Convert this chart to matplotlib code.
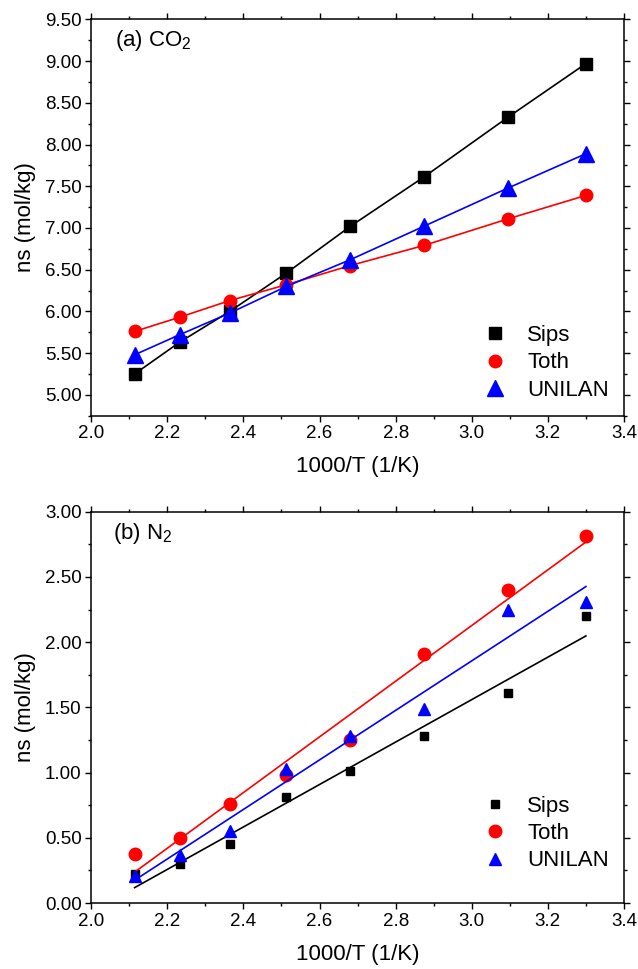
import matplotlib
matplotlib.use('Agg')
import matplotlib.pyplot as plt
from matplotlib.ticker import MultipleLocator, FormatStrFormatter
import numpy as np

plt.rcParams['font.family'] = ['Liberation Sans', 'DejaVu Sans']
plt.rcParams['mathtext.fontset'] = 'custom'
plt.rcParams['mathtext.rm'] = 'Liberation Sans'
plt.rcParams['mathtext.it'] = 'Liberation Sans:italic'

# 1000/T for T = 473, 448, 423, 398, 373, 348, 323, 303 K
inv_t = [2.114, 2.232, 2.364, 2.513, 2.681, 2.874, 3.096, 3.300]

co2_sips = [5.25, 5.63, 6.00, 6.46, 7.02, 7.61, 8.33, 8.97]
co2_toth = [5.76, 5.93, 6.13, 6.32, 6.55, 6.79, 7.11, 7.39]
co2_unilan = [5.48, 5.72, 5.98, 6.30, 6.62, 7.02, 7.48, 7.89]

n2_sips = [0.22, 0.30, 0.45, 0.81, 1.01, 1.28, 1.61, 2.20]
n2_toth = [0.38, 0.50, 0.76, 0.98, 1.25, 1.91, 2.40, 2.81]
n2_unilan = [0.21, 0.37, 0.55, 1.03, 1.28, 1.49, 2.25, 2.31]

models = ['Sips', 'Toth', 'UNILAN']
colors = ['black', 'red', 'blue']
markers = ['s', 'o', '^']

fig = plt.figure(figsize=(6.38, 9.69), dpi=100)
ax1 = fig.add_axes([0.143, 0.571, 0.835, 0.409])
ax2 = fig.add_axes([0.143, 0.068, 0.835, 0.404])

def style_axis(ax, ymin, ymax):
  ax.set_xlim(2.0, 3.4)
  ax.set_ylim(ymin, ymax)
  ax.xaxis.set_major_locator(MultipleLocator(0.2))
  ax.xaxis.set_minor_locator(MultipleLocator(0.1))
  ax.yaxis.set_major_locator(MultipleLocator(0.5))
  ax.yaxis.set_minor_locator(MultipleLocator(0.25))
  ax.xaxis.set_major_formatter(FormatStrFormatter('%.1f'))
  ax.yaxis.set_major_formatter(FormatStrFormatter('%.2f'))
  ax.tick_params(which='both', direction='out', top=True, right=True, labelsize=13.5, pad=3)
  ax.tick_params(which='major', length=4, width=1)
  ax.tick_params(which='minor', length=2.5, width=1)
  for s in ax.spines.values():
    s.set_linewidth(1.1)
  ax.set_xlabel('1000/T (1/K)', fontsize=16, labelpad=10)
  ax.set_ylabel('ns (mol/kg)', fontsize=16, labelpad=6)

def add_legend(ax, ybottom):
  ax.legend(loc='lower right', bbox_to_anchor=(0.972, ybottom), frameon=False, fontsize=16,
            borderpad=0, borderaxespad=0, handlelength=1.0, handletextpad=0.95,
            labelspacing=0.28)

# (a) CO2: points joined by lines
sizes_a = [8, 9, 11]
for vals, name, c, m, ms in zip([co2_sips, co2_toth, co2_unilan], models, colors, markers, sizes_a):
  ax1.plot(inv_t, vals, color=c, lw=1.2, marker=m, ms=ms)
  ax1.plot([], [], ls='none', color=c, marker=m, ms=ms, label=name)
style_axis(ax1, 4.75, 9.5)
ax1.text(0.044, 0.978, '(a) CO$_2$', transform=ax1.transAxes, fontsize=16, va='top')
add_legend(ax1, 0.038)

# (b) N2: points with linear fits
sizes_b = [6, 9, 8]
x = np.array(inv_t)
for vals, name, c, m, ms in zip([n2_sips, n2_toth, n2_unilan], models, colors, markers, sizes_b):
  ax2.plot(inv_t, vals, ls='none', color=c, marker=m, ms=ms, label=name)
  k, b = np.polyfit(x, vals, 1)
  ax2.plot(x[[0, -1]], k*x[[0, -1]]+b, color=c, lw=1.2)
style_axis(ax2, 0.0, 3.0)
ax2.text(0.041, 0.975, '(b) N$_2$', transform=ax2.transAxes, fontsize=16, va='top')
add_legend(ax2, 0.081)

fig.savefig('out.png', dpi=100)
